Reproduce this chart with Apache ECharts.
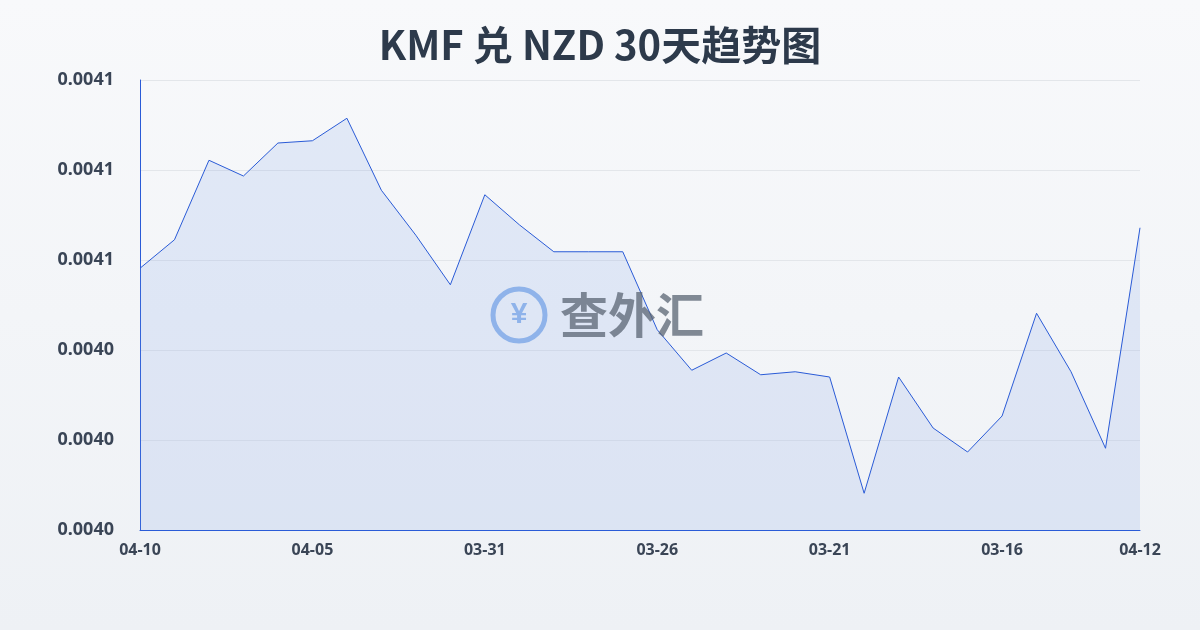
<!DOCTYPE html>
<html><head><meta charset="utf-8">
<script src="https://cdn.jsdelivr.net/npm/echarts@6/dist/echarts.min.js"></script>
<style>html,body{margin:0;padding:0;}#chart-0{width:1200px;height:630px;}</style>
</head><body><div id="chart-0"></div>
<script>
var titleText = 'KMF 兑 NZD 30天趋势图';
var dates = ['04-10','04-09','04-08','04-07','04-06','04-05','04-04','04-03','04-02','04-01',
    '03-31','03-30','03-29','03-28','03-27','03-26','03-25','03-24','03-23','03-22',
    '03-21','03-20','03-19','03-18','03-17','03-16','03-15','03-14','03-13','04-12'];
var rates = [0.0040549,0.0040587,0.0040693,0.0040672,0.0040716,0.0040719,0.0040749,0.0040653,0.0040593,0.0040527,
    0.0040647,0.0040607,0.0040571,0.0040571,0.0040571,0.0040467,0.0040413,0.0040436,0.0040407,0.0040411,
    0.0040404,0.0040249,0.0040404,0.0040336,0.0040304,0.0040352,0.0040489,0.0040411,0.0040309,0.0040603];

var chart = echarts.init(document.getElementById('chart-0'));
chart.setOption({
    backgroundColor: new echarts.graphic.LinearGradient(0, 0, 0, 1, [
        {offset: 0, color: '#f8f9fb'}, {offset: 1, color: '#eef1f5'}]),
    title: {
        text: titleText, left: 'center', top: 20,
        textStyle: {fontSize: 40, fontWeight: 'bold', color: '#2d3a4b', fontFamily: 'Noto Sans CJK SC'}
    },
    grid: {left: 140, right: 60, top: 80, bottom: 100},
    graphic: [
        {type: 'circle', shape: {cx: 519, cy: 315, r: 26}, style: {fill: 'none', stroke: '#8fb3ea', lineWidth: 5}, z: 10},
        {type: 'text', style: {x: 519, y: 315, text: '¥', align: 'center', verticalAlign: 'middle', fontSize: 30, fontWeight: 'bold', fill: '#8fb3ea'}, z: 10},
        {type: 'text', style: {x: 560, y: 315, text: '查外汇', verticalAlign: 'middle', fontSize: 48, fontWeight: 'bold', fill: 'rgba(90,100,115,0.75)', fontFamily: 'Noto Sans CJK SC'}, z: 10}
    ],
    xAxis: {
        type: 'category', data: dates, boundaryGap: false,
        axisLine: {lineStyle: {color: '#2a5bd7'}},
        axisTick: {show: false},
        axisLabel: {
            interval: function(i) { return i % 5 === 0 || i === dates.length - 1; },
            color: '#3a4556', fontSize: 16, fontWeight: 'bold', margin: 12, fontFamily: 'Noto Sans'
        }
    },
    yAxis: {
        type: 'value', min: 0.00402, max: 0.00408, interval: 0.000012,
        axisLine: {show: true, lineStyle: {color: '#2a5bd7'}}, axisTick: {show: false},
        splitLine: {lineStyle: {color: '#e3e6ea'}},
        axisLabel: {
            formatter: function(v) { return v.toFixed(4); },
            color: '#3a4556', fontSize: 18, fontWeight: 'bold', margin: 26, fontFamily: 'Noto Sans'
        }
    },
    series: [{
        type: 'line', data: rates, symbol: 'none',
        lineStyle: {color: '#2a5bd7', width: 1},
        areaStyle: {color: 'rgba(110,150,230,0.22)'}
    }]
});
</script></body></html>
